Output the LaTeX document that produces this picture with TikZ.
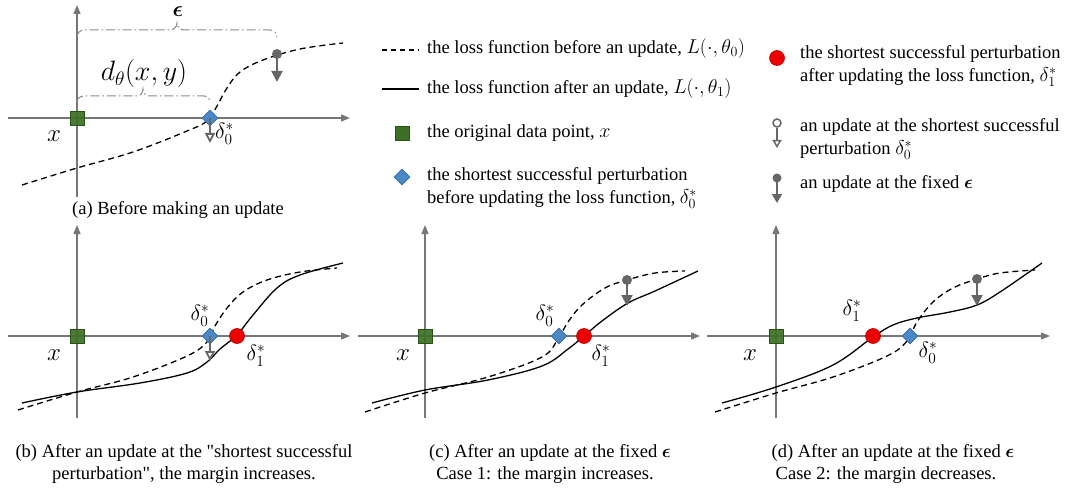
\RequirePackage{fix-cm}
\documentclass[tikz,border=0pt]{standalone}
\usepackage{amsmath,bm}
\usepackage[no-math]{fontspec}
\setmainfont{Liberation Serif}
\newfontfamily\plainq{Liberation Serif}[Ligatures=TeXOff]
\newcommand\lgm[1]{{\fontsize{20}{23}\selectfont$#1$}}
\usetikzlibrary{arrows.meta,shapes.geometric}
\definecolor{axgray}{HTML}{777777}
\definecolor{upgray}{HTML}{666666}
\definecolor{braceg}{HTML}{8A8A8A}
\definecolor{sqfill}{HTML}{3D7024}
\definecolor{sqedge}{HTML}{2A5216}
\definecolor{diafill}{HTML}{4A88C8}
\definecolor{diaedge}{HTML}{3A6EA5}
\definecolor{redfill}{HTML}{EE0000}
\definecolor{rededge}{HTML}{B00000}
\tikzset{
 ax/.style={draw=axgray, line width=1.3pt, -{Triangle[length=9pt,width=7pt]}},
 before/.style={black, line width=1.3pt, dash pattern=on 6pt off 4pt},
 after/.style={black, line width=1.3pt},
 sq/.style={draw=sqedge, fill=sqfill, fill opacity=0.92, minimum size=14pt, inner sep=0pt, line width=0.8pt},
 dia/.style={diamond, fill=diafill, draw=diaedge, minimum size=16pt, inner sep=0pt, line width=0.6pt},
 redpt/.style={circle, fill=redfill, draw=rededge, minimum size=15pt, inner sep=0pt, line width=0.6pt},
 upd/.style={draw=upgray, line width=2pt, -{Triangle[length=11pt,width=11pt]}},
 updopen/.style={draw=upgray, line width=1.8pt, -{Triangle[open,length=10pt,width=10pt]}},
 dotn/.style={circle, fill=upgray, minimum size=10pt, inner sep=0pt},
 odotn/.style={circle, draw=upgray, line width=1.5pt, fill=white, minimum size=8pt, inner sep=0pt},
 bracep/.style={draw=braceg, line width=1pt, dash pattern=on 9pt off 3pt on 1.5pt off 3pt},
 txt/.style={font=\fontsize{18.5}{22}\selectfont, inner sep=0pt},
 lbl/.style={font=\fontsize{22}{24}\selectfont, inner sep=0pt},
 xl/.style={font=\fontsize{25}{26}\selectfont, inner sep=0pt},
 leg/.style={font=\fontsize{18.5}{23}\selectfont, inner sep=0pt, anchor=west, align=left},
}
\begin{document}
\begin{tikzpicture}[x=1pt,y=-1pt]
\useasboundingbox (0,0) rectangle (1067,489);

% ================= Panel (a) =================
\coordinate (aX0) at (8,118); \coordinate (aX1) at (350,118);
\coordinate (aY0) at (77,197); \coordinate (aY1) at (77,5);
\draw[ax] (aX0) -- (aX1);
\draw[ax] (aY0) -- (aY1);
% braces
\draw[bracep] (77,37) to[out=90,in=180] (84,30) -- (170,30) to[out=0,in=-90] (177,23)
  to[out=-90,in=180] (184,30) -- (270,30) to[out=0,in=90] (277,37);
\node[lbl, font=\fontsize{22}{24}\selectfont] (aeps) at (178,12) {$\bm{\epsilon}$};
\draw[bracep] (77,102) to[out=90,in=180] (84,96) -- (137,96) to[out=0,in=-90] (143,89)
  to[out=-90,in=180] (149,96) -- (204,96) to[out=0,in=90] (210,102);
\node[lbl, font=\fontsize{28}{30}\selectfont] (ad) at (144,74) {$d_\theta(x,y)$};
% curve
\draw[before] plot[smooth, tension=0.6] coordinates {(22,185) (77,168) (133,152) (187,131) (207,121) (217,106) (227,88) (240,72) (263,60) (300,49) (343,43)};
\node[sq] (asq) at (77,118) {};
\node[dia] (adia) at (210,118) {};
\coordinate (aopen) at (210,143);
\draw[updopen] (adia.center) -- (aopen);
\node[dotn] (adot) at (277,54) {};
\coordinate (aupd) at (277,82);
\draw[upd] (adot.center) -- (aupd);
\node[xl] (ax) at (54,136) {$x$};
\node[lbl, anchor=west] (ad0) at (215,134) {$\delta_0^*$};
\node[txt] (acap) at (178,210) {(a) Before making an update};

% ================= Legend =================
\coordinate (l1a) at (382,50); \coordinate (l1b) at (419,50);
\draw[before, dash pattern=on 5pt off 4pt] (l1a) -- (l1b);
\node[leg] (l1t) at (427,49) {the loss function before an update, \lgm{L(\cdot,\theta_0)}};
\coordinate (l2a) at (382,89); \coordinate (l2b) at (419,89);
\draw[after] (l2a) -- (l2b);
\node[leg] (l2t) at (427,89) {the loss function after an update, \lgm{L(\cdot,\theta_1)}};
\node[sq, fill opacity=1] (lsq) at (402,133) {};
\node[leg] (l3t) at (427,133) {the original data point, \lgm{x}};
\node[dia] (ldia) at (402,177) {};
\node[leg] (l4t) at (427,188) {the shortest successful perturbation\\before updating the loss function, \lgm{\delta_0^*}};
\node[redpt] (lred) at (777,58) {};
\node[leg] (l5t) at (800,66) {the shortest successful perturbation\\after updating the loss function, \lgm{\delta_1^*}};
\node[odotn] (lodot) at (777,123) {};
\coordinate (lotip) at (777,148);
\draw[updopen, line width=1.5pt, -{Triangle[open,length=8pt,width=9pt]}] (lodot) -- (lotip);
\node[leg] (l6t) at (800,139) {an update at the shortest successful\\perturbation \lgm{\delta_0^*}};
\node[dotn, minimum size=9pt] (lfdot) at (777,178) {};
\coordinate (lftip) at (777,203);
\draw[upd, line width=1.8pt, -{Triangle[length=9pt,width=10pt]}] (lfdot.center) -- (lftip);
\node[leg] (l7t) at (800,184) {an update at the fixed $\bm{\epsilon}$};

% ================= Panel (b) =================
\coordinate (bX0) at (8,336); \coordinate (bX1) at (350,336);
\coordinate (bY0) at (77,418); \coordinate (bY1) at (77,225);
\draw[ax] (bX0) -- (bX1);
\draw[ax] (bY0) -- (bY1);
\draw[before] plot[smooth, tension=0.6] coordinates {(18,410) (77,392) (133,377) (187,356) (207,342) (215,326) (227,308) (243,292) (267,280) (300,272) (337,268)};
\draw[after] plot[smooth, tension=0.6] coordinates {(22,403) (77,392) (140,383) (187,373) (207,362) (220,349) (237,335) (253,315) (277,288) (300,275) (343,263)};
\node[sq] (bsq) at (77,336) {};
\node[dia] (bdia) at (210,336) {};
\node[redpt] (bred) at (237,336) {};
\coordinate (bopen) at (210,361);
\draw[updopen] (bdia.center) -- (bopen);
\node[xl] (bx) at (54,355) {$x$};
\node[lbl] (bd0) at (200,316) {$\delta_0^*$};
\node[lbl] (bd1) at (256,356) {$\delta_1^*$};
\node[txt] (bcap1) at (184,453) {(b) After an update at the {\plainq"}shortest successful};
\node[txt] (bcap2) at (184,475) {perturbation{\plainq"}, the margin increases.};

% ================= Panel (c) =================
\coordinate (cX0) at (358,336); \coordinate (cX1) at (700,336);
\coordinate (cY0) at (425,418); \coordinate (cY1) at (425,225);
\draw[ax] (cX0) -- (cX1);
\draw[ax] (cY0) -- (cY1);
\draw[before] plot[smooth, tension=0.6] coordinates {(365,412) (425,393) (488,377) (542,357) (558,339) (568,322) (582,305) (605,288) (627,280) (655,273) (685,271)};
\draw[after] plot[smooth, tension=0.6] coordinates {(372,403) (425,390) (488,380) (542,366) (568,349) (584,336) (602,321) (628,303) (655,291) (698,271)};
\node[sq] (csq) at (425,336) {};
\node[dia] (cdia) at (559,336) {};
\node[redpt] (cred) at (584,336) {};
\node[dotn] (cdot) at (627,280) {};
\coordinate (cupd) at (627,306);
\draw[upd] (cdot.center) -- (cupd);
\node[xl] (cx) at (403,355) {$x$};
\node[lbl] (cd0) at (545,316) {$\delta_0^*$};
\node[lbl] (cd1) at (601,356) {$\delta_1^*$};
\node[txt] (ccap1) at (550,453) {(c) After an update at the fixed $\bm{\epsilon}$};
\node[txt] (ccap2) at (545,475) {Case 1: the margin increases.};

% ================= Panel (d) =================
\coordinate (dX0) at (707,336); \coordinate (dX1) at (1050,336);
\coordinate (dY0) at (776,418); \coordinate (dY1) at (776,225);
\draw[ax] (dX0) -- (dX1);
\draw[ax] (dY0) -- (dY1);
\draw[before] plot[smooth, tension=0.6] coordinates {(715,412) (776,393) (833,377) (887,356) (907,341) (917,322) (933,302) (953,288) (977,279) (1000,273) (1035,270)};
\draw[after] plot[smooth, tension=0.6] coordinates {(722,403) (776,387) (833,365) (873,337) (893,325) (917,318) (950,312) (977,305) (1000,292) (1042,263)};
\node[sq] (dsq) at (776,336) {};
\node[redpt] (dred) at (873,336) {};
\node[dia] (ddia) at (910,336) {};
\node[dotn] (ddot) at (977,279) {};
\coordinate (dupd) at (977,306);
\draw[upd] (ddot.center) -- (dupd);
\node[xl] (dx) at (750,355) {$x$};
\node[lbl] (dd1) at (852,311) {$\delta_1^*$};
\node[lbl] (dd0) at (928,353) {$\delta_0^*$};
\node[txt] (dcap1) at (893,453) {(d) After an update at the fixed $\bm{\epsilon}$};
\node[txt] (dcap2) at (886,475) {Case 2: the margin decreases.};
\end{tikzpicture}
\end{document}
